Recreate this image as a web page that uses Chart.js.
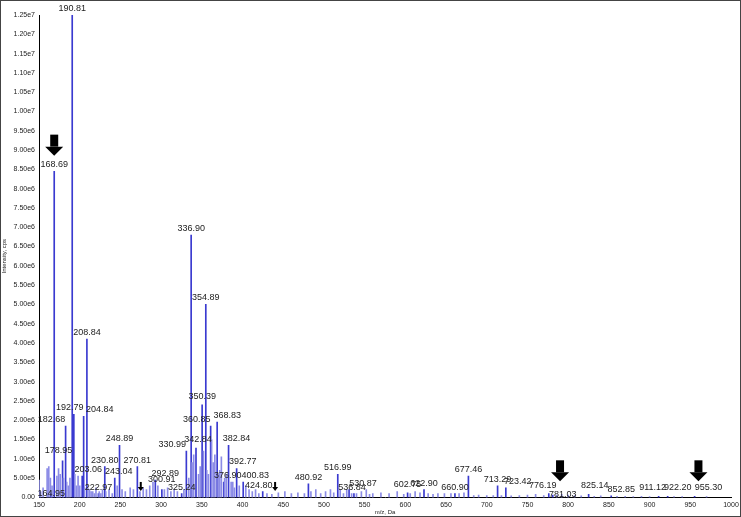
<!DOCTYPE html>
<html><head><meta charset="utf-8">
<script src="https://cdn.jsdelivr.net/npm/chart.js@4"></script>
<style>html,body{margin:0;padding:0;background:#fff}#w{position:absolute;left:0;top:0;width:739px;height:515px;border:1px solid #444}</style>
</head><body><div id="w"><canvas id="c"></canvas></div>
<script>
// Labelled peaks (m/z, intensity)
const labMz  = [168.69,190.81,336.90,354.89,208.84,350.39,360.85,368.83,382.84,392.77,342.84,330.99,248.89,230.80,270.81,292.89,300.91,182.68,192.79,204.84,178.95,203.06,243.04,325.24,376.90,400.83,424.80,480.92,516.99,530.87,536.84,602.75,622.90,660.90,677.46,713.29,723.42,776.19,781.03,825.14,852.85,911.12,922.20,955.30,164.95,222.97];
const labInt = [8.45e6,1.25e7,6.8e6,5.0e6,4.1e6,2.4e6,1.85e6,1.95e6,1.35e6,0.75e6,1.28e6,1.2e6,1.35e6,0.8e6,0.8e6,0.45e6,0.2e6,1.85e6,2.15e6,2.1e6,0.95e6,0.55e6,0.5e6,0.1e6,0.4e6,0.4e6,0.15e6,0.35e6,0.6e6,0.2e6,0.1e6,0.12e6,0.2e6,0.1e6,0.55e6,0.3e6,0.25e6,0.1e6,0.06e6,0.08e6,0.04e6,0.03e6,0.03e6,0.03e6,0.1e6,0.1e6];
// Minor unlabelled peaks
const minMz  = [150,152,155,160,162,164,166,172,174,176,180,184,186,188,194,196,198,200,206,210,212,214,216,218,220,224,226,228,232,236,240,246,252,256,262,266,274,278,282,286,290,296,304,308,312,316,320,328,334,338,340,346,348,352,356,358,362,364,366,370,372,374,378,380,386,388,390,396,404,408,412,416,420,430,436,444,452,460,468,476,484,490,496,502,508,512,520,524,528,534,540,546,552,556,560,570,580,590,598,606,612,618,628,634,640,648,656,666,672,684,690,700,708,718,730,740,750,760,770,786,792,800,808,816,832,840,860,870,880,890,900,930,940,970,985];
const minInt = [4.5e5,1.5e5,2.5e5,7.5e5,8e5,5e5,3e5,5.5e5,7.5e5,6e5,5e5,4e5,3e5,5e5,6e5,3e5,5.5e5,3e5,2.5e5,2.5e5,2e5,1.5e5,1.5e5,1e5,2.5e5,1.5e5,1e5,2e5,1.5e5,2e5,1e5,3e5,2e5,1.5e5,2.5e5,2e5,1.5e5,2.5e5,2e5,3e5,4e5,3e5,2e5,2.5e5,1.5e5,2e5,1.5e5,2e5,5e5,9e5,1.1e6,6e5,8e5,1.2e6,7e5,6e5,1.5e6,9e5,1.1e6,6e5,7e5,1.05e6,5e5,6e5,4e5,4e5,2.5e5,3e5,3e5,2e5,1.5e5,2e5,1e5,1e5,8e4,1.2e5,1.5e5,1e5,1.2e5,1e5,1.5e5,2e5,1e5,1.5e5,2e5,1.2e5,1.8e5,1e5,2e5,1e5,1e5,1.5e5,2e5,8e4,1e5,1.2e5,1e5,1.5e5,8e4,1e5,1.5e5,1.2e5,1e5,8e4,1e5,1e5,1e5,1e5,1.2e5,5e4,6e4,5e4,5e4,5e4,4e4,5e4,6e4,8e4,5e4,6e4,8e4,6e4,5e4,4e4,3e4,4e4,3e4,3e4,2e4,3e4,2e4,2e4,2e4,2e4];
const arrowMz = [168.69,790,960];
const smallArrowMz = [275,440];
const yTicks = [0,5e5,1e6,1.5e6,2e6,2.5e6,3e6,3.5e6,4e6,4.5e6,5e6,5.5e6,6e6,6.5e6,7e6,7.5e6,8e6,8.5e6,9e6,9.5e6,1e7,1.05e7,1.1e7,1.15e7,1.2e7,1.25e7];
// label placement nudges (pixels), keyed by m/z
const labelNudge = {182.68:[-14,0],192.79:[-4,0],204.84:[16,0],178.95:[-4,-4],203.06:[6,0],330.99:[-14,0],342.84:[2,-2],350.39:[0,-2],360.85:[-14,0],368.83:[10,0],382.84:[8,0],392.77:[6,0],376.90:[4,0],400.83:[12,0],300.91:[0,-4],292.89:[10,0],230.80:[0,0],243.04:[4,0],222.97:[0,0],530.87:[14,0],536.84:[-2,0],602.75:[0,-2],723.42:[12,0],776.19:[-6,-2],781.03:[10,6],825.14:[6,-2],852.85:[10,0],911.12:[-6,-2],922.20:[10,-2],955.30:[14,-2],164.95:[0,6],424.80:[-4,0]};

const pts = [];
labMz.forEach((m,i)=>pts.push({x:m,y:labInt[i],l:1}));
minMz.forEach((m,i)=>pts.push({x:m,y:minInt[i],l:0}));
pts.sort((a,b)=>a.x-b.x);

function fmt(v){ if(v===0) return '0.00'; return v.toExponential(2).replace('e+','e'); }

const annot = {
  id:'annot',
  afterDatasetsDraw(ch){
    const c=ch.ctx, xs=ch.scales.x, ys=ch.scales.y;
    c.save();
    c.font='9px "Liberation Sans", Arial'; c.fillStyle='#222'; c.textAlign='center'; c.textBaseline='bottom';
    labMz.forEach((m,i)=>{ const n=labelNudge[m]||[0,0];
      c.fillText(m.toFixed(2), xs.getPixelForValue(m)+n[0], ys.getPixelForValue(labInt[i])-2+n[1]); });
    c.fillStyle='#000';
    arrowMz.forEach(m=>{
      const x=xs.getPixelForValue(m); let y0;
      if(m<200) y0=ys.getPixelForValue(9.4e6); else y0=ys.getPixelForValue(6.5e5)-12;
      c.fillRect(x-4,y0,8,12); c.beginPath(); c.moveTo(x-9,y0+12); c.lineTo(x+9,y0+12); c.lineTo(x,y0+21); c.closePath(); c.fill();
    });
    smallArrowMz.forEach(m=>{
      const x=xs.getPixelForValue(m), y0=ys.getPixelForValue(4e5);
      c.fillRect(x-1,y0,2,5); c.beginPath(); c.moveTo(x-3,y0+5); c.lineTo(x+3,y0+5); c.lineTo(x,y0+9); c.closePath(); c.fill();
    });
    c.restore();
  }
};

new Chart(document.getElementById('c'),{
  type:'bar',
  data:{datasets:[{data:pts,
    backgroundColor:pts.map(p=>p.l? '#3a3ad0':'#8c8ce6'),
    barThickness:1, categoryPercentage:1, barPercentage:1}]},
  options:{
    responsive:true, maintainAspectRatio:false, animation:false,
    layout:{padding:{top:14,right:9,left:0,bottom:0}},
    plugins:{legend:{display:false},tooltip:{enabled:false}},
    scales:{
      x:{type:'linear',min:150,max:1000,offset:false,
        grid:{display:false,drawTicks:true,tickLength:3},border:{color:'#000'},
        ticks:{stepSize:50,callback:v=>String(v),font:{size:7,family:'Liberation Sans'},color:'#222',maxRotation:0,padding:0},
        title:{display:true,text:'m/z, Da',font:{size:6,family:'Liberation Sans'},color:'#222',padding:{top:0,bottom:0}}},
      y:{min:0,max:1.25e7,afterBuildTicks(a){a.ticks=yTicks.map(v=>({value:v}));},
        afterFit(a){a.width=38;},
        grid:{display:false,tickLength:3},border:{color:'#000',dash:[2,1]},
        ticks:{callback:v=>fmt(v),font:{size:7,family:'Liberation Sans'},color:'#222',padding:1},
        title:{display:true,text:'Intensity, cps',font:{size:6,family:'Liberation Sans'},color:'#222',padding:0}}
    }
  },
  plugins:[annot]
});
</script></body></html>
